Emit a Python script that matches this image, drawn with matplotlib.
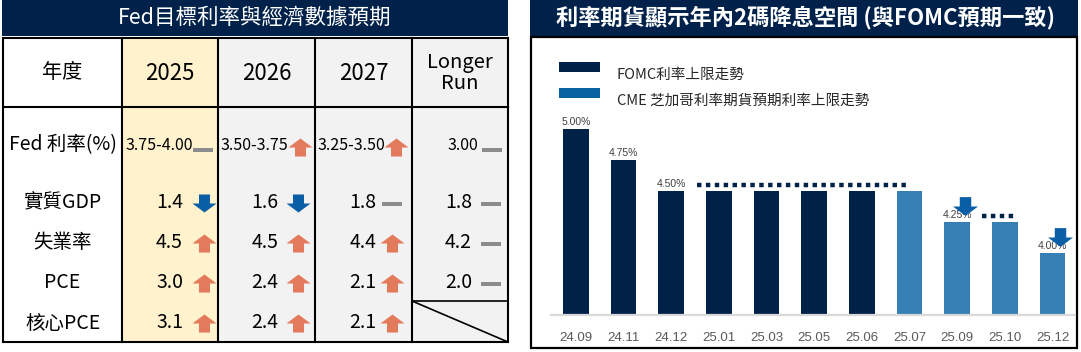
import matplotlib
matplotlib.use("Agg")
import matplotlib.pyplot as plt
from matplotlib.path import Path
from matplotlib.patches import Rectangle

plt.rcParams['font.family'] = ['Noto Sans CJK TC', 'DejaVu Sans']
plt.rcParams['font.weight'] = 'medium'

# ---- left table data ----
LEFT_TITLE = "Fed目標利率與經濟數據預期"
header_label = "年度"
years = ["2025", "2026", "2027", "Longer\nRun"]
row_labels = ["Fed 利率(%)", "實質GDP", "失業率", "PCE", "核心PCE"]
fed_rate = ["3.75-4.00", "3.50-3.75", "3.25-3.50", "3.00"]
gdp = ["1.4", "1.6", "1.8", "1.8"]
unemployment = ["4.5", "4.5", "4.4", "4.2"]
pce = ["3.0", "2.4", "2.1", "2.0"]
core_pce = ["3.1", "2.4", "2.1", None]
fed_trend = ["flat", "up", "up", "flat"]
gdp_trend = ["down", "down", "flat", "flat"]
unemployment_trend = ["up", "up", "up", "flat"]
pce_trend = ["up", "up", "up", "flat"]
core_pce_trend = ["up", "up", "up", None]

# ---- right chart data ----
RIGHT_TITLE = "利率期貨顯示年內2碼降息空間 (與FOMC預期一致)"
months = ["24.09", "24.11", "24.12", "25.01", "25.03", "25.05",
          "25.06", "25.07", "25.09", "25.10", "25.12"]
upper_rate = [5.00, 4.75, 4.50, 4.50, 4.50, 4.50, 4.50, 4.50, 4.25, 4.25, 4.00]
source = ["FOMC"] * 7 + ["CME"] * 4
labelled = ["24.09", "24.11", "24.12", "25.09", "25.12"]
cut_months = ["25.09", "25.12"]
# FOMC path shown as dotted line: (rate, from category, to category)
fomc_path = [(4.50, 2.55, 7.0), (4.25, 8.52, 9.25)]
legend_names = ["FOMC利率上限走勢", "CME 芝加哥利率期貨預期利率上限走勢"]

NAVY = "#00214A"
BAR_NAVY = "#002248"
CME_BAR = "#367FB5"
CME_LEG = "#0762A2"
UP_C = "#E27A5B"
DOWN_C = "#0A5EA6"
FLAT_C = "#8C8C8C"

UP = Path([(-5.5, -9), (5.5, -9), (5.5, 0), (12, 0), (0, 9), (-12, 0),
           (-5.5, 0), (-5.5, -9)], closed=True)
DOWN = Path([(-5.5, 9), (5.5, 9), (5.5, 0), (12, 0), (0, -9), (-12, 0),
             (-5.5, 0), (-5.5, 9)], closed=True)
FLAT = Path([(-10, -2.2), (10, -2.2), (10, 2.2), (-10, 2.2), (-10, -2.2)],
            closed=True)
MARK = {"up": (UP, UP_C, 17.3), "down": (DOWN, DOWN_C, 17.3),
        "flat": (FLAT, FLAT_C, 14.4)}

fig = plt.figure(figsize=(10.81, 3.52), dpi=100)
bg = fig.add_axes([0, 0, 1, 1])
bg.set_xlim(0, 1081)
bg.set_ylim(352, 0)
bg.axis("off")


def mark(ax, x, y, kind):
    path, color, size = MARK[kind]
    ax.plot([x], [y], marker=path, markersize=size, color=color,
            markeredgewidth=0, linestyle="none")


# ---------------- left table ----------------
bg.add_patch(Rectangle((2, 0), 506, 36, color=NAVY, lw=0))
bg.text(255, 18, LEFT_TITLE, color="white", fontsize=15.5, ha="center", va="center")

col_edges = [3, 122, 218, 315, 412, 508]
col_fill = ["white", "#FFF2CC", "#F2F2F2", "#F2F2F2", "#F2F2F2"]
top, head_bot, bottom = 38, 107, 342
for i in range(5):
    bg.add_patch(Rectangle((col_edges[i], top), col_edges[i + 1] - col_edges[i],
                           bottom - top, color=col_fill[i], lw=0))
for x in col_edges:
    bg.plot([x, x], [top, bottom], color="black", lw=1.5)
for y in [top, head_bot, bottom]:
    bg.plot([col_edges[0], col_edges[-1]], [y, y], color="black", lw=1.5)
# empty longer-run core PCE cell
bg.plot([412, 508], [301, 301], color="black", lw=1.2)
bg.plot([412, 508], [301, 342], color="black", lw=1.2)

bg.text(62.5, 73, header_label, fontsize=14.5, ha="center", va="center")
for i, yr in enumerate(years):
    cx = (col_edges[i + 1] + col_edges[i + 2]) / 2
    bg.text(cx, 73, yr, fontsize=16 if i < 3 else 14.5, ha="center", va="center",
            linespacing=1.05)

row_y = [145, 203, 243, 283, 323]
rows = [(fed_rate, fed_trend), (gdp, gdp_trend), (unemployment, unemployment_trend),
        (pce, pce_trend), (core_pce, core_pce_trend)]
num_right = [183, 278, 376, 472]
mark_x = [204, 298, 392, 491]
fed_right = [193, 288, 385, 478]
fed_mark_x = [203, 300, 396, 492]

for r, (label, (vals, trends)) in enumerate(zip(row_labels, rows)):
    y = row_y[r]
    bg.text(62.5, y, label, fontsize=14, ha="center", va="center")
    for c, (v, t) in enumerate(zip(vals, trends)):
        if v is None:
            continue
        if r == 0:
            bg.text(fed_right[c], y, v, fontsize=11.5, ha="right", va="center")
            mark(bg, fed_mark_x[c], y + (5 if t == "flat" else 2), t)
        else:
            bg.text(num_right[c], y, v, fontsize=14, ha="right", va="center")
            mark(bg, mark_x[c], y + (1 if t == "flat" else 0), t)

# ---------------- right chart ----------------
bg.add_patch(Rectangle((530, 0), 548, 36, color=NAVY, lw=0))
bg.text(805, 18, RIGHT_TITLE, color="white", fontsize=16, fontweight="bold",
        ha="center", va="center")
bg.add_patch(Rectangle((531, 37), 546, 311, fill=False, ec="black", lw=1.6))

for k, (name, col) in enumerate(zip(legend_names, [BAR_NAVY, CME_LEG])):
    y = 62 + 26 * k
    bg.add_patch(Rectangle((559, y), 41, 10, color=col, lw=0))
    bg.text(617, y + 13, name, fontsize=10.5, color="#262626", ha="left", va="center")

ax = fig.add_axes([551 / 1081, (352 - 315) / 352, 524 / 1081, 205 / 352])
ax.set_facecolor("none")
xs = list(range(len(months)))
colors = [BAR_NAVY if s == "FOMC" else CME_BAR for s in source]
ax.bar(xs, upper_rate, width=0.535, color=colors, bottom=0)
ax.set_xlim(-0.52, 10.47)
ax.set_ylim(3.5, 3.5 + 205 / 124)
for s in ["top", "left", "right"]:
    ax.spines[s].set_visible(False)
ax.spines["bottom"].set_color("#D9D9D9")
ax.spines["bottom"].set_linewidth(1.6)
ax.set_yticks([])
ax.set_xticks(xs)
ax.set_xticklabels(months, fontsize=9.5, color="#595959", family="Liberation Sans",
                   fontweight="normal")
ax.tick_params(axis="x", length=0, pad=12)

for i, (m, v) in enumerate(zip(months, upper_rate)):
    if m in labelled:
        ax.text(i, v + 0.02, f"{v:.2f}%", fontsize=7.5, color="#404040",
                family="Liberation Sans", fontweight="normal",
                ha="center", va="bottom")

for rate, x0, x1 in fomc_path:
    ax.plot([x0, x1], [rate + 0.045, rate + 0.045], color=BAR_NAVY, lw=3.2,
            linestyle=(0, (1, 1)), solid_capstyle="butt")

for m in cut_months:
    i = months.index(m)
    ax.plot([i + 0.16], [upper_rate[i] + 0.13], marker=DOWN, markersize=18,
            color=DOWN_C, markeredgewidth=0, linestyle="none", zorder=5)

fig.savefig("out.png", dpi=100)
